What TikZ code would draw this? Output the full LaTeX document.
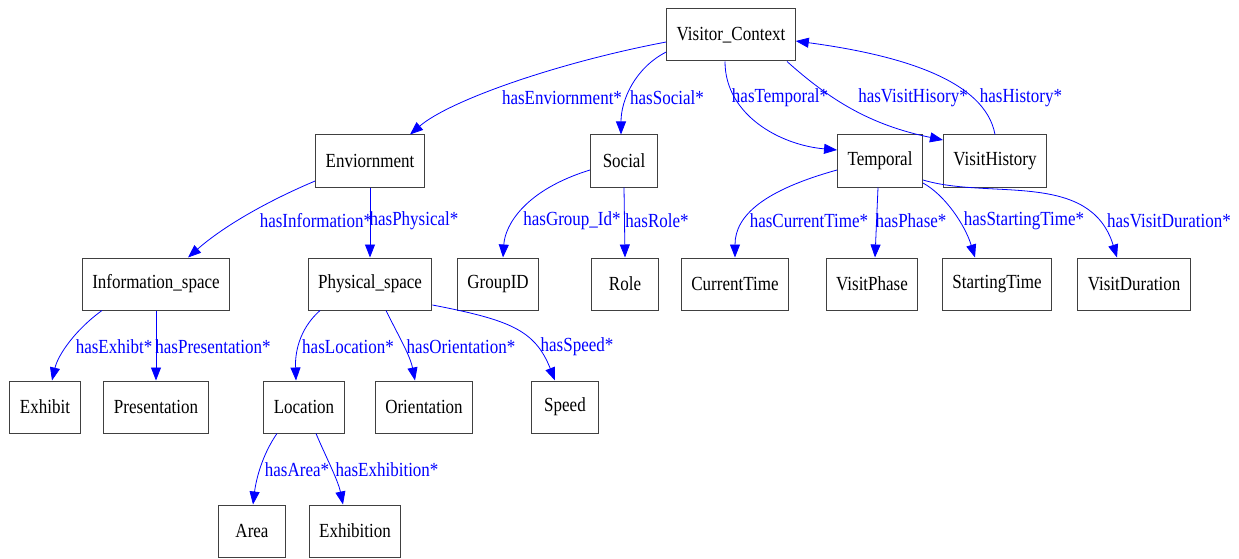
\documentclass[tikz,border=0pt]{standalone}
\usepackage{fontspec}
\setmainfont{Liberation Serif}[FakeStretch=0.85]
\usetikzlibrary{arrows.meta}
\definecolor{edgeblue}{RGB}{0,0,255}
\begin{document}
\begin{tikzpicture}[x=1pt,y=-1pt,
  box/.style={draw=black!75,line width=1pt,minimum height=52pt,minimum width=67pt,inner xsep=10pt,font=\fontsize{20}{24}\selectfont},
  lab/.style={text=edgeblue,inner sep=0pt,font=\fontsize{20}{24}\selectfont},
  edge/.style={draw=edgeblue,line width=0.8pt,-{Triangle[length=13pt,width=10pt]}}]
\useasboundingbox (0,0) rectangle (1239,559);
% nodes
\node[box] (vc) at (731,35) {Visitor\_Context};
\node[box] (env) at (370,161) {Enviornment};
\node[box] (soc) at (624,161) {Social};
\node[box] (temp) at (880,161) {Temporal};
\node[box] (vh) at (995,161) {VisitHistory};
\node[box] (info) at (156,284) {Information\_space};
\node[box] (phys) at (370,284) {Physical\_space};
\node[box] (grp) at (498,284) {GroupID};
\node[box] (role) at (625,284) {Role};
\node[box] (ct) at (735,284) {CurrentTime};
\node[box] (vp) at (872,284) {VisitPhase};
\node[box] (st) at (997,284) {StartingTime};
\node[box] (vd) at (1134,284) {VisitDuration};
\node[box] (exh) at (45,407) {Exhibit};
\node[box] (pres) at (156,407) {Presentation};
\node[box] (loc) at (304,407) {Location};
\node[box] (ori) at (424,407) {Orientation};
\node[box] (spd) at (565,407) {Speed};
\node[box] (area) at (252,531) {Area};
\node[box] (exn) at (355,531) {Exhibition};
% edges
\path[edge] ([yshift=-7pt]vc.west) .. controls (560,62) and (450,100) .. ([xshift=40pt]env.north);
\path[edge] ([yshift=-17pt]vc.west) .. controls (635,68) and (621,100) .. ([xshift=-3pt]soc.north);
\path[edge] ([xshift=-6pt]vc.south) .. controls (725,115) and (780,145) .. ([yshift=11pt]temp.west);
\path[edge] ([xshift=56pt]vc.south) .. controls (830,100) and (870,125) .. ([yshift=21pt]vh.west);
\path[edge] (vh.north) .. controls (985,80) and (900,55) .. ([yshift=-6pt]vc.east);
\path[edge] ([yshift=-20pt]env.west) .. controls (270,200) and (225,225) .. ([xshift=32pt]info.north);
\path[edge] (env.south) -- (phys.north);
\path[edge] ([yshift=-9pt]soc.west) .. controls (525,190) and (505,225) .. ([xshift=5pt]grp.north);
\path[edge] (soc.south) -- ([xshift=0pt]role.north);
\path[edge] ([yshift=-9pt]temp.west) .. controls (765,190) and (735,215) .. (ct.north);
\path[edge] ([xshift=-2pt]temp.south) -- ([xshift=3pt]vp.north);
\path[edge] ([yshift=-22pt]temp.east) .. controls (945,195) and (965,225) .. ([xshift=-22pt]st.north);
\path[edge] ([yshift=-19pt]temp.east) .. controls (990,200) and (1090,170) .. ([xshift=-17pt]vd.north);
\path[edge] ([xshift=-54pt]info.south) .. controls (75,330) and (58,355) .. ([xshift=7pt]exh.north);
\path[edge] (info.south) -- (pres.north);
\path[edge] ([xshift=-50pt]phys.south) .. controls (298,330) and (295,355) .. ([xshift=-8pt]loc.north);
\path[edge] ([xshift=16pt]phys.south) .. controls (398,335) and (410,355) .. ([xshift=-9pt]ori.north);
\path[edge] ([yshift=-21pt]phys.east) .. controls (510,320) and (535,330) .. ([xshift=-10pt]spd.north);
\path[edge] ([xshift=-27pt]loc.south) .. controls (262,455) and (256,480) .. ([xshift=1pt]area.north);
\path[edge] ([xshift=12pt]loc.south) .. controls (325,455) and (338,480) .. ([xshift=-12pt]exn.north);
% labels
\node[lab] (l1) at (562,98) {hasEnviornment*};
\node[lab] (l2) at (667,98) {hasSocial*};
\node[lab] (l3) at (780,98) {hasTemporal*};
\node[lab] (l4) at (913,98) {hasVisitHisory*};
\node[lab] (l5) at (1021,98) {hasHistory*};
\node[lab] (l6) at (316,221) {hasInformation*};
\node[lab] (l7) at (414,221) {hasPhysical*};
\node[lab] (l8) at (572,221) {hasGroup\_Id*};
\node[lab] (l9) at (657,221) {hasRole*};
\node[lab] (l10) at (809,221) {hasCurrentTime*};
\node[lab] (l11) at (911,221) {hasPhase*};
\node[lab] (l12) at (1024,221) {hasStartingTime*};
\node[lab] (l13) at (1169,221) {hasVisitDuration*};
\node[lab] (l14) at (114,347) {hasExhibt*};
\node[lab] (l15) at (213,347) {hasPresentation*};
\node[lab] (l16) at (348,347) {hasLocation*};
\node[lab] (l17) at (461,347) {hasOrientation*};
\node[lab] (l18) at (577,347) {hasSpeed*};
\node[lab] (l19) at (297,470) {hasArea*};
\node[lab] (l20) at (387,470) {hasExhibition*};
\end{tikzpicture}
\end{document}
